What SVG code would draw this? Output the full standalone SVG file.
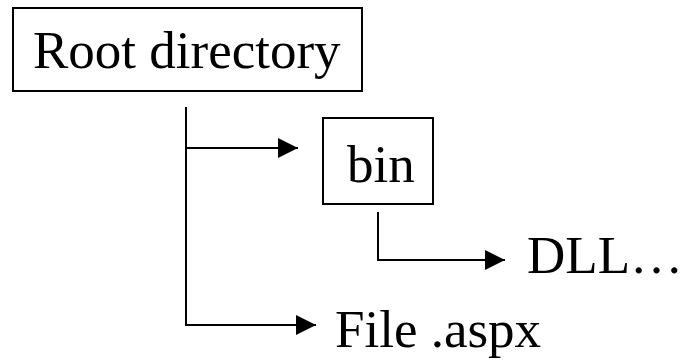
<svg xmlns="http://www.w3.org/2000/svg" width="682" height="363" viewBox="0 0 682 363">
<style>
.box{fill:#fff;stroke:#000;stroke-width:2}
.t{font-family:"Liberation Serif","Times New Roman",serif;font-size:53px;fill:#000}
.c{fill:none;stroke:#000;stroke-width:2}
</style>
<defs>
<marker id="ah" viewBox="0 0 20 20" refX="20" refY="10" markerWidth="20" markerHeight="20" markerUnits="userSpaceOnUse" orient="auto">
<path d="M0,0 L20,10 L0,20 Z" fill="#000"/>
</marker>
</defs>
<rect width="682" height="363" fill="#fff"/>
<g id="root">
<rect class="box" x="13" y="8" width="349" height="83"/>
<text class="t" x="33" y="68">Root directory</text>
</g>
<g id="bin">
<rect class="box" x="323" y="118" width="110" height="86"/>
<text class="t" x="347" y="182">bin</text>
</g>
<g id="dll">
<text class="t" x="527" y="273">DLL…</text>
</g>
<g id="file">
<text class="t" x="335" y="347">File .aspx</text>
</g>
<g id="connectors">
<path class="c" d="M186,107 V325 H316" marker-end="url(#ah)"/>
<path class="c" d="M186,148 H298" marker-end="url(#ah)"/>
<path class="c" d="M378,212 V260 H505" marker-end="url(#ah)"/>
</g>
</svg>
